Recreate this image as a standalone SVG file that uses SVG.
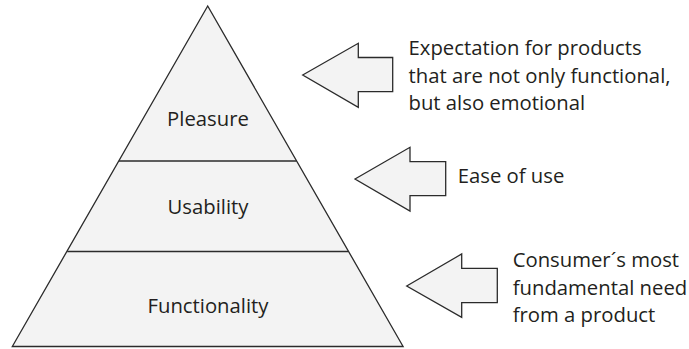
<svg xmlns="http://www.w3.org/2000/svg" width="689" height="349" viewBox="0 0 689 349">
  <style>
    .shape { fill: #f3f3f3; stroke: #2b2b2b; stroke-width: 1.3; stroke-linejoin: miter; }
    .sep { stroke: #2b2b2b; stroke-width: 1.3; fill: none; }
    .lbl { font-family: "Open Sans", "Liberation Sans", sans-serif; font-size: 20.3px; fill: #231f20; }
    .mid { text-anchor: middle; }
  </style>
  <rect width="689" height="349" fill="#ffffff"/>
  <g id="pyramid">
    <polygon class="shape" points="207.7,6 12.3,346.5 403.1,346.5"/>
  </g>
  <g id="pleasure">
    <text class="lbl mid" x="208" y="126">Pleasure</text>
  </g>
  <g id="usability">
    <line class="sep" x1="118.9" y1="161" x2="296.5" y2="161"/>
    <text class="lbl mid" x="208" y="213.5">Usability</text>
  </g>
  <g id="functionality">
    <line class="sep" x1="67.2" y1="251.5" x2="348.2" y2="251.5"/>
    <text class="lbl mid" x="208" y="313">Functionality</text>
  </g>
  <g id="connectors">
    <polygon class="shape" points="302.7,75 358.3,43.3 358.3,57.5 392.7,57.5 392.7,91.7 358.3,91.7 358.3,107.3"/>
    <polygon class="shape" points="355,179 410,147.3 410,161.7 445.7,161.7 445.7,195.7 410,195.7 410,211"/>
    <polygon class="shape" points="406.7,286 461.7,254 461.7,268.3 497.3,268.3 497.3,302.7 461.7,302.7 461.7,317.3"/>
  </g>
  <g id="note-pleasure">
    <text class="lbl" x="408.5" y="55">Expectation for products</text>
    <text class="lbl" x="408.5" y="82.5">that are not only functional,</text>
    <text class="lbl" x="408.5" y="110">but also emotional</text>
  </g>
  <g id="note-usability">
    <text class="lbl" x="457.7" y="183.3">Ease of use</text>
  </g>
  <g id="note-functionality">
    <text class="lbl" x="512.7" y="266.7">Consumer´s most</text>
    <text class="lbl" x="512.7" y="294.5">fundamental need</text>
    <text class="lbl" x="512.7" y="322">from a product</text>
  </g>
</svg>
